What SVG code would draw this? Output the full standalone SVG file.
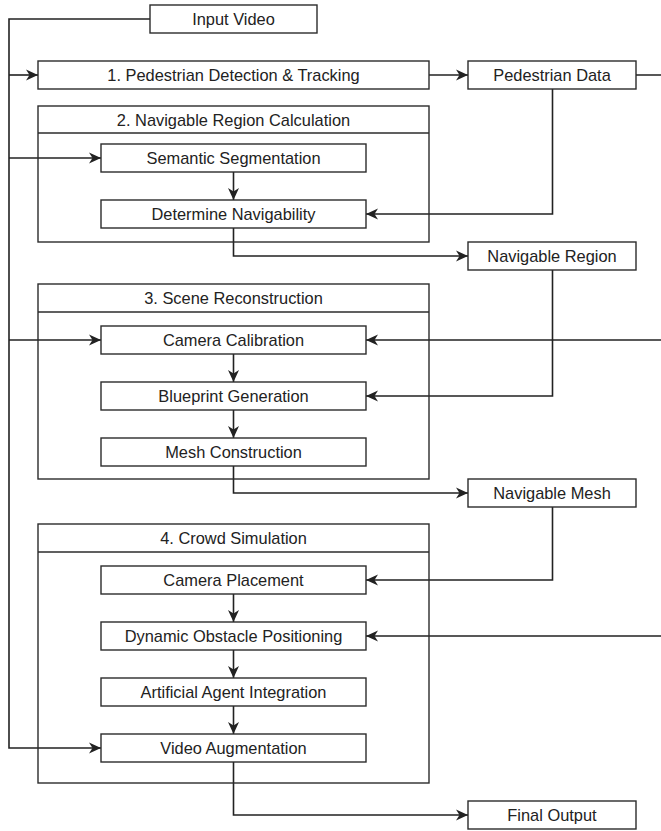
<svg xmlns="http://www.w3.org/2000/svg" width="661" height="831" viewBox="0 0 661 831">
<style>
.box{fill:#fff;stroke:#2b2b2b;stroke-width:1.4}
.ct{fill:none;stroke:#2b2b2b;stroke-width:1.4}
.lbl{font-family:"Liberation Sans",Arial,sans-serif;font-size:16.4px;fill:#222;text-anchor:middle}
.cn{fill:none;stroke:#222;stroke-width:1.6}
</style>
<defs>
<marker id="ah" markerUnits="userSpaceOnUse" markerWidth="12" markerHeight="12" viewBox="0 0 12 12" refX="12" refY="6" orient="auto">
<path d="M0,0.5 L12,6 L0,11.5 L3.5,6 Z" fill="#222"/>
</marker>
</defs>
<rect width="661" height="831" fill="#fff"/>
<g id="connectors">
<path class="cn" d="M150,19 H9 V748 H101" marker-end="url(#ah)"/>
<path class="cn" d="M9,75 H38" marker-end="url(#ah)"/>
<path class="cn" d="M9,158 H101" marker-end="url(#ah)"/>
<path class="cn" d="M9,340 H101" marker-end="url(#ah)"/>
<path class="cn" d="M429,75 H468" marker-end="url(#ah)"/>
<path class="cn" d="M636,75 H670 V636 H366" marker-end="url(#ah)"/>
<path class="cn" d="M670,340 H366" marker-end="url(#ah)"/>
<path class="cn" d="M552.5,89 V214 H366" marker-end="url(#ah)"/>
<path class="cn" d="M233.5,172 V200" marker-end="url(#ah)"/>
<path class="cn" d="M233.5,228 V256 H468" marker-end="url(#ah)"/>
<path class="cn" d="M552.5,270 V396 H366" marker-end="url(#ah)"/>
<path class="cn" d="M233.5,354 V382" marker-end="url(#ah)"/>
<path class="cn" d="M233.5,410 V438" marker-end="url(#ah)"/>
<path class="cn" d="M233.5,466 V493 H468" marker-end="url(#ah)"/>
<path class="cn" d="M552.5,507 V580 H366" marker-end="url(#ah)"/>
<path class="cn" d="M233.5,594 V622" marker-end="url(#ah)"/>
<path class="cn" d="M233.5,650 V678" marker-end="url(#ah)"/>
<path class="cn" d="M233.5,706 V734" marker-end="url(#ah)"/>
<path class="cn" d="M233.5,762 V815 H468" marker-end="url(#ah)"/>
</g>
<g id="input-video"><rect class="box" x="150" y="5" width="167" height="28"/><text class="lbl" x="233.5" y="25">Input Video</text></g>
<g id="step1"><rect class="box" x="38" y="61" width="391" height="28"/><text class="lbl" x="233.5" y="81">1. Pedestrian Detection &amp; Tracking</text></g>
<g id="pedestrian-data"><rect class="box" x="468" y="61" width="168" height="28"/><text class="lbl" x="552" y="81">Pedestrian Data</text></g>
<g id="step2"><rect class="ct" x="38" y="106" width="391" height="136"/><line class="ct" x1="38" y1="133" x2="429" y2="133"/><text class="lbl" x="233.5" y="125.5">2. Navigable Region Calculation</text></g>
<g id="semantic-segmentation"><rect class="box" x="101" y="144" width="265" height="28"/><text class="lbl" x="233.5" y="164">Semantic Segmentation</text></g>
<g id="determine-navigability"><rect class="box" x="101" y="200" width="265" height="28"/><text class="lbl" x="233.5" y="220">Determine Navigability</text></g>
<g id="navigable-region"><rect class="box" x="468" y="242" width="168" height="28"/><text class="lbl" x="552" y="262">Navigable Region</text></g>
<g id="step3"><rect class="ct" x="38" y="284" width="391" height="195"/><line class="ct" x1="38" y1="312" x2="429" y2="312"/><text class="lbl" x="233.5" y="304">3. Scene Reconstruction</text></g>
<g id="camera-calibration"><rect class="box" x="101" y="326" width="265" height="28"/><text class="lbl" x="233.5" y="346">Camera Calibration</text></g>
<g id="blueprint-generation"><rect class="box" x="101" y="382" width="265" height="28"/><text class="lbl" x="233.5" y="402">Blueprint Generation</text></g>
<g id="mesh-construction"><rect class="box" x="101" y="438" width="265" height="28"/><text class="lbl" x="233.5" y="458">Mesh Construction</text></g>
<g id="navigable-mesh"><rect class="box" x="468" y="479" width="168" height="28"/><text class="lbl" x="552" y="499">Navigable Mesh</text></g>
<g id="step4"><rect class="ct" x="38" y="524" width="391" height="259"/><line class="ct" x1="38" y1="552" x2="429" y2="552"/><text class="lbl" x="233.5" y="544">4. Crowd Simulation</text></g>
<g id="camera-placement"><rect class="box" x="101" y="566" width="265" height="28"/><text class="lbl" x="233.5" y="586">Camera Placement</text></g>
<g id="dynamic-obstacle"><rect class="box" x="101" y="622" width="265" height="28"/><text class="lbl" x="233.5" y="642">Dynamic Obstacle Positioning</text></g>
<g id="artificial-agent"><rect class="box" x="101" y="678" width="265" height="28"/><text class="lbl" x="233.5" y="698">Artificial Agent Integration</text></g>
<g id="video-augmentation"><rect class="box" x="101" y="734" width="265" height="28"/><text class="lbl" x="233.5" y="754">Video Augmentation</text></g>
<g id="final-output"><rect class="box" x="468" y="801" width="168" height="28"/><text class="lbl" x="552" y="821">Final Output</text></g>
</svg>
